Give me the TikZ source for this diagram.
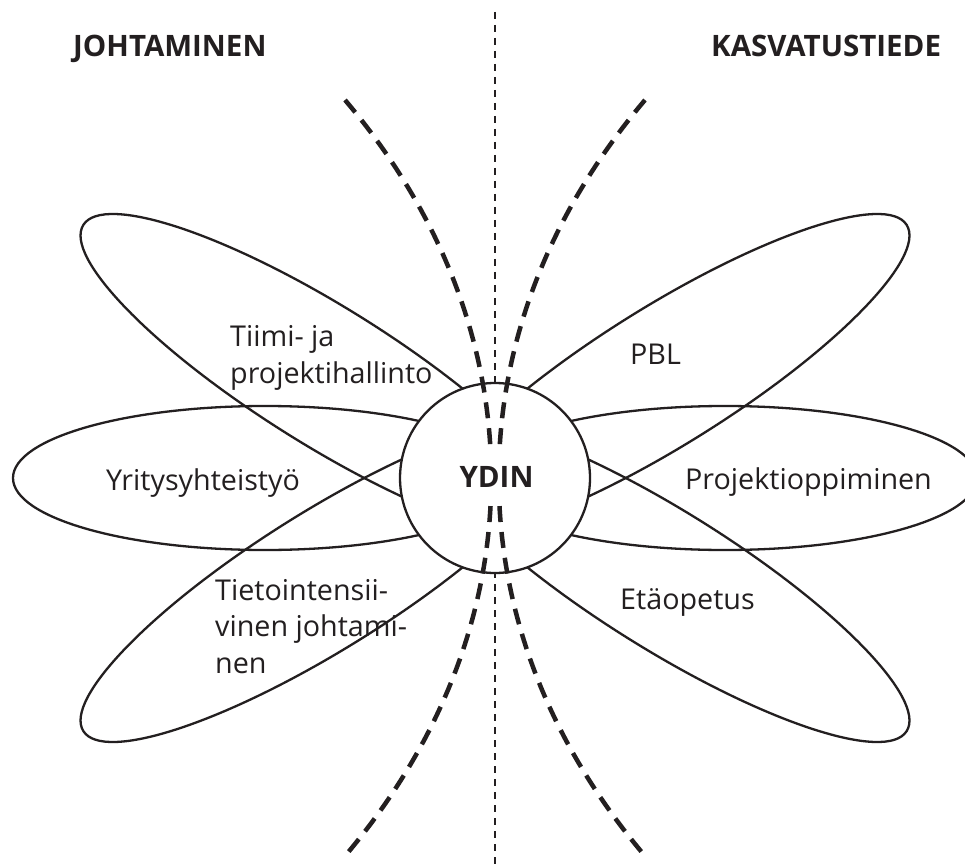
\documentclass[tikz,border=0pt]{standalone}
\usepackage{fontspec}
\setmainfont{Open Sans}
\usetikzlibrary{shapes.geometric}
\definecolor{ink}{HTML}{231F20}
\begin{document}
\begin{tikzpicture}[x=1pt,y=1pt,
  petal/.style={draw=ink, ellipse, line width=2.3pt, inner sep=0pt, outer sep=0pt,
    minimum width=570pt, minimum height=138pt},
  hpetal/.style={draw=ink, ellipse, line width=2.3pt, inner sep=0pt, outer sep=0pt,
    minimum width=504pt, minimum height=144pt},
  lbl/.style={text=ink, inner sep=0pt, anchor=base west, align=left,
    font=\fontsize{28.7}{36.5}\selectfont},
  title/.style={text=ink, inner sep=0pt, anchor=base west,
    font=\bfseries\fontsize{29.5}{34}\selectfont},
  thindash/.style={draw=ink, line width=2.2pt, dash pattern=on 7pt off 6pt},
  heavydash/.style={draw=ink, line width=4.5pt, dash pattern=on 16pt off 10pt}]
\clip (0,0) rectangle (965,-866);
\fill[white] (0,0) rectangle (965,-866);

% petals
\node[petal, rotate=-32] (tiimi) at (325,-376) {};
\node[petal, rotate=32]  (pbl)   at (665,-376) {};
\node[petal, rotate=32]  (tieto) at (325,-580) {};
\node[petal, rotate=-32] (eta)   at (665,-580) {};
\node[hpetal] (yri)  at (265,-478) {};
\node[hpetal] (proj) at (725,-478) {};

% vertical dotted divider
\coordinate (vtop) at (495,-12);
\coordinate (vbot) at (495,-866);
\draw[thindash] (vtop) -- (vbot);

% core
\node[circle, draw=ink, fill=white, line width=2.3pt, minimum size=190pt, inner sep=0pt] (core) at (495,-478) {};

% heavy dashed curves
\coordinate (lt) at (345,-100);
\coordinate (lb) at (345,-856);
\coordinate (rt) at (645,-100);
\coordinate (rb) at (645,-856);
\draw[heavydash] (lt) .. controls (540,-330) and (540,-626) .. (lb);
\draw[heavydash] (rt) .. controls (450,-330) and (450,-626) .. (rb);

\node[fill=white, text=ink, inner xsep=3pt, inner ysep=14pt, anchor=base,
  font=\bfseries\fontsize{29.5}{36}\selectfont] (ydin) at (496.5,-487) {YDIN};

% labels (base anchor = last line's baseline)
\node[lbl] (tiimiL) at (230,-383) {Tiimi- ja\\projektihallinto};
\node[lbl] (yriL) at (106,-490) {Yritysyhteistyö};
\node[lbl] (tietoL) at (215,-673) {Tietointensii-\\vinen johtami-\\nen};
\node[lbl] (pblL) at (630,-364) {PBL};
\node[lbl] (projL) at (685,-489) {Projektioppiminen};
\node[lbl] (etaL) at (620,-609) {Etäopetus};

\node[title] (joht) at (73,-57) {JOHTAMINEN};
\node[title] (kasv) at (711,-57) {KASVATUSTIEDE};
\end{tikzpicture}
\end{document}
